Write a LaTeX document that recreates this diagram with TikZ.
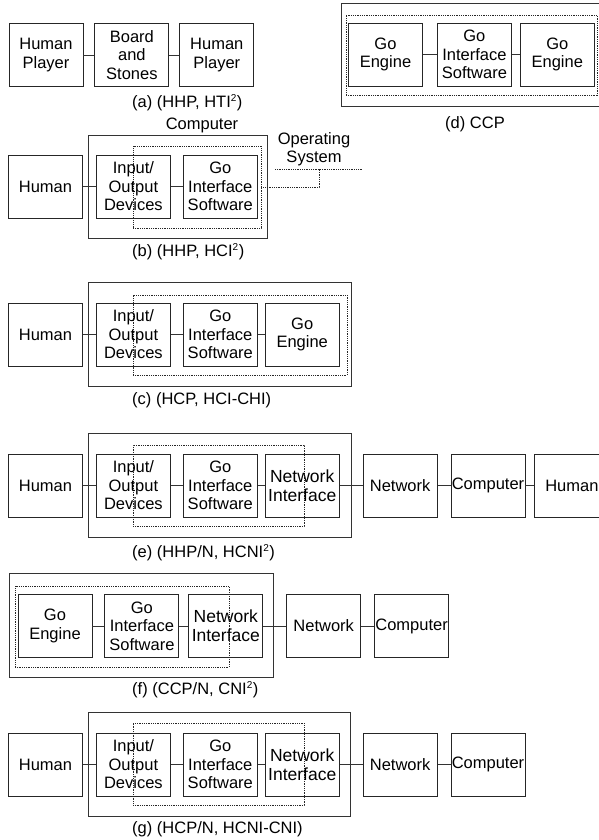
\documentclass[tikz,border=0pt]{standalone}
\usepackage{fontspec}
\setmainfont{Liberation Sans}
\usetikzlibrary{positioning}
\newcommand{\sq}{\textsuperscript{\fontsize{10}{10}\selectfont 2}}
\tikzset{unit/.style={draw=black!85,line width=0.9pt,align=center,inner sep=0pt,
  minimum width=74pt,minimum height=63pt,font=\fontsize{16.5}{18.5}\selectfont},
 netunit/.style={unit,font=\fontsize{17.5}{19}\selectfont},
 outerbox/.style={draw=black!80,line width=0.9pt,inner sep=0pt},
 dotbox/.style={draw=black!85,line width=0.7pt,dash pattern=on 0.9pt off 0.9pt,inner sep=0pt},
 dotline/.style={draw=black!85,line width=0.7pt,dash pattern=on 0.9pt off 0.9pt},
 figlabel/.style={anchor=west,inner sep=0pt,font=\fontsize{16.5}{18.5}\selectfont},
 link/.style={draw=black!80,line width=0.9pt}}

\begin{document}
\begin{tikzpicture}[x=1pt,y=-1pt,plain/.style={inner sep=0pt,align=center,font=\fontsize{16.5}{17.5}\selectfont}]
\useasboundingbox (0,0) rectangle (599,840);

% frames round the machine parts
\node[outerbox,minimum width=269pt,minimum height=103pt] (dPC) at (475.5,54.5) {};
\node[dotbox,minimum width=251pt,minimum height=80pt] (dSW) at (471.5,55) {};
\node[outerbox,minimum width=179pt,minimum height=103pt] (bPC) at (177.5,186.5) {};
\node[dotbox,minimum width=128pt,minimum height=82pt] (bSW) at (197,187) {};
\node[outerbox,minimum width=263pt,minimum height=104pt] (cPC) at (219.5,334) {};
\node[dotbox,minimum width=214pt,minimum height=80pt] (cSW) at (240,335) {};
\node[outerbox,minimum width=263pt,minimum height=104pt] (ePC) at (219.5,485) {};
\node[dotbox,minimum width=171pt,minimum height=81pt] (eSW) at (218.5,485.5) {};
\node[outerbox,minimum width=264pt,minimum height=104pt] (fPC) at (141,625) {};
\node[dotbox,minimum width=214pt,minimum height=81pt] (fSW) at (122,626.5) {};
\node[outerbox,minimum width=262pt,minimum height=104pt] (gPC) at (219,764) {};
\node[dotbox,minimum width=171pt,minimum height=82pt] (gSW) at (218.5,764) {};

% (a)
\node[unit] (aP1) at (46,55) {Human\\Player};
\node[unit,right=11pt of aP1] (aBS) {Board\\and\\Stones};
\node[unit,right=10pt of aBS] (aP2) {Human\\Player};
\node[figlabel] (aCap) at (132,103) {(a) (HHP, HTI\sq)};

% (d)
\node[unit] (dGE1) at (385.5,54.5) {Go\\Engine};
\node[unit,right=14pt of dGE1] (dGIS) {Go\\Interface\\Software};
\node[unit,right=8pt of dGIS] (dGE2) {Go\\Engine};
\node[plain] (dCap) at (475,124) {(d) CCP};

% (b)
\node[plain] (bComp) at (202,125) {Computer};
\node[unit] (bH) at (45.5,186.5) {Human};
\node[unit,right=13pt of bH] (bIO) {Input/\\Output\\Devices};
\node[unit,right=12pt of bIO] (bGIS) {Go\\Interface\\Software};
\node[figlabel] (bCap) at (132,252) {(b) (HHP, HCI\sq)};
\node[plain] (os) at (314,149) {Operating\\System};
\coordinate (osL) at (275,169);
\coordinate (osR) at (363,169);
\coordinate (osJ) at (319,169);

% (c)
\node[unit] (cH) at (45.5,334.5) {Human};
\node[unit,right=13pt of cH] (cIO) {Input/\\Output\\Devices};
\node[unit,right=12pt of cIO] (cGIS) {Go\\Interface\\Software};
\node[unit,right=7pt of cGIS] (cGE) {Go\\Engine};
\node[figlabel] (cCap) at (132,400) {(c) (HCP, HCI-CHI)};

% (e)
\node[unit] (eH) at (45.5,485.5) {Human};
\node[unit,right=13pt of eH] (eIO) {Input/\\Output\\Devices};
\node[unit,right=12pt of eIO] (eGIS) {Go\\Interface\\Software};
\node[netunit,right=7pt of eGIS] (eNI) {Network\\Interface};
\node[unit,right=23pt of eNI] (eNet) {Network};
\node[unit,right=13pt of eNet] (eComp) {Computer};
\node[unit,right=9pt of eComp] (eH2) {Human};
\node[figlabel] (eCap) at (132,553) {(e) (HHP/N, HCNI\sq)};

% (f)
\node[unit] (fGE) at (55,626) {Go\\Engine};
\node[unit,right=12pt of fGE] (fGIS) {Go\\Interface\\Software};
\node[netunit,right=9pt of fGIS] (fNI) {Network\\Interface};
\node[unit,right=23pt of fNI] (fNet) {Network};
\node[unit,right=13pt of fNet] (fComp) {Computer};
\node[figlabel] (fCap) at (132,690) {(f) (CCP/N, CNI\sq)};

% (g)
\node[unit] (gH) at (45.5,764.5) {Human};
\node[unit,right=13pt of gH] (gIO) {Input/\\Output\\Devices};
\node[unit,right=12pt of gIO] (gGIS) {Go\\Interface\\Software};
\node[netunit,right=7pt of gGIS] (gNI) {Network\\Interface};
\node[unit,right=23pt of gNI] (gNet) {Network};
\node[unit,right=13pt of gNet] (gComp) {Computer};
\node[figlabel] (gCap) at (132,829) {(g) (HCP/N, HCNI-CNI)};

\draw[dotline] (osL) -- (osR);
\draw[dotline] (bSW.east) -| (osJ);

\draw[link] (aP1) -- (aBS) (aBS) -- (aP2)
(dGE1) -- (dGIS) (dGIS) -- (dGE2)
(bH) -- (bIO) (bIO) -- (bGIS)
(cH) -- (cIO) (cIO) -- (cGIS) (cGIS) -- (cGE)
(eH) -- (eIO) (eIO) -- (eGIS) (eGIS) -- (eNI) (eNI) -- (eNet) (eNet) -- (eComp) (eComp) -- (eH2)
(fGE) -- (fGIS) (fGIS) -- (fNI) (fNI) -- (fNet) (fNet) -- (fComp)
(gH) -- (gIO) (gIO) -- (gGIS) (gGIS) -- (gNI) (gNI) -- (gNet) (gNet) -- (gComp)
;
\end{tikzpicture}
\end{document}
